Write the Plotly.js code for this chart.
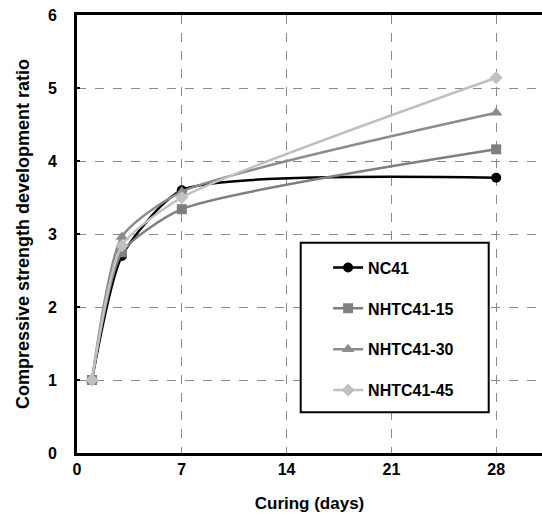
<!DOCTYPE html>
<html>
<head>
<meta charset="utf-8">
<script src="https://cdn.plot.ly/plotly-3.0.1.min.js"></script>
<style>html,body{margin:0;padding:0;background:#fff;}#chart{width:542px;height:514px;}</style>
</head>
<body>
<div id="chart"></div>
<script>
const days = [1, 3, 7, 28];
const seriesNames = ["NC41", "NHTC41-15", "NHTC41-30", "NHTC41-45"];
const nc41 = [1.0, 2.70, 3.60, 3.77];
const nhtc15 = [1.0, 2.75, 3.34, 4.16];
const nhtc30 = [1.0, 2.96, 3.58, 4.66];
const nhtc45 = [1.0, 2.84, 3.50, 5.14];
const xTicks = [0, 7, 14, 21, 28];
const yTicks = [0, 1, 2, 3, 4, 5, 6];

const seriesValues = [nc41, nhtc15, nhtc30, nhtc45];
const colors = ["#000000", "#7f7f7f", "#8c8c8c", "#c0c0c0"];
const symbols = ["circle", "square", "triangle-up", "diamond"];
const msizes = [10, 10, 11, 10];

const traces = seriesValues.map((vals, i) => ({
  x: days, y: vals, name: "<b>" + seriesNames[i] + "</b>", type: "scatter", mode: "lines+markers",
  line: {color: colors[i], width: 2.5, shape: "spline", smoothing: 0.6},
  marker: {color: colors[i], symbol: symbols[i], size: msizes[i]},
  legendgroup: "g" + i
}));

const fam = "Liberation Sans, Arial, sans-serif";
const font = {family: fam, size: 16, color: "#000", weight: 700};
const xTitleFont = {family: fam, size: 17, color: "#000", weight: 700};
const yTitleFont = {family: fam, size: 18, color: "#000", weight: 700};

const layout = {
  width: 542, height: 514,
  margin: {l: 77, r: 0, t: 15, b: 61},
  paper_bgcolor: "#fff", plot_bgcolor: "#fff",
  font: font,
  showlegend: true,
  legend: {
    x: 0.54, y: 0.462, xanchor: "left", yanchor: "top",
    bgcolor: "rgba(0,0,0,0)", borderwidth: 0,
    font: {family: fam, size: 16, color: "#000", weight: 700},
    tracegroupgap: 17, traceorder: "grouped"
  },
  xaxis: {
    range: [0, 31.06], tickvals: xTicks, ticktext: xTicks.map(v => "<b>" + v + "</b>"),
    showline: true, linecolor: "#000", linewidth: 3, mirror: true,
    showgrid: true, gridcolor: "#8a8a8a", griddash: "dash", gridwidth: 1,
    ticks: "", zeroline: false,
    title: {text: "<b>Curing (days)</b>", font: xTitleFont, standoff: 20},
    tickfont: font, fixedrange: true
  },
  yaxis: {
    range: [0, 6], tickvals: yTicks, ticktext: yTicks.map(v => "<b>" + v + "</b>"),
    showline: true, linecolor: "#000", linewidth: 3, mirror: false,
    showgrid: true, gridcolor: "#8a8a8a", griddash: "dash", gridwidth: 1,
    ticks: "inside", ticklen: 3, tickwidth: 2, tickcolor: "#000", zeroline: false,
    ticklabelstandoff: 14,
    title: {text: "<b>Compressive strength development ratio</b>", font: yTitleFont, standoff: 14},
    tickfont: font, fixedrange: true
  },
  shapes: [{
    type: "rect", xref: "paper", yref: "paper",
    x0: (300.7 - 77) / 465, x1: (488.7 - 77) / 465,
    y0: (453 - 412.3) / 438, y1: (453 - 242.7) / 438,
    line: {color: "#000", width: 2}, fillcolor: "#fff", layer: "above"
  }]
};

Plotly.newPlot("chart", traces, layout, {displayModeBar: false, staticPlot: true});
</script>
</body>
</html>
